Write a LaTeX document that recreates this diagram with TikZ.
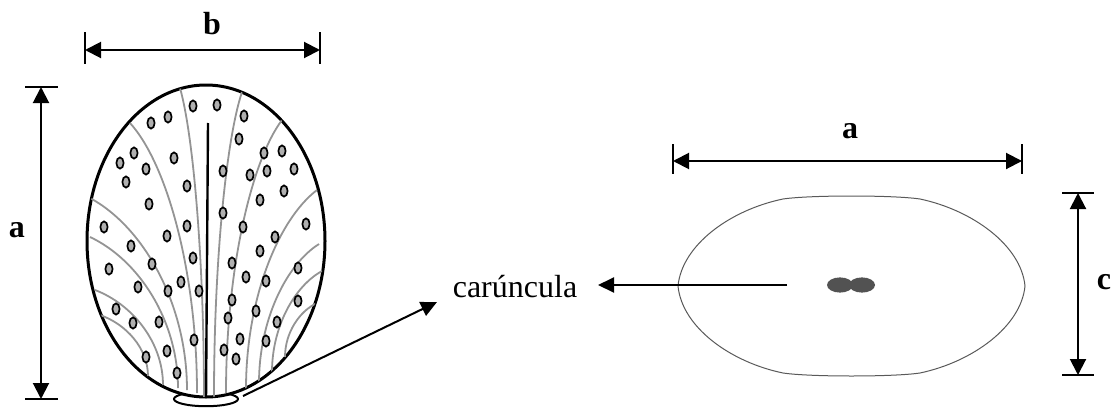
\documentclass[tikz,border=0pt]{standalone}
\usepackage{fontspec}
\setmainfont{Liberation Serif}
\usetikzlibrary{arrows.meta}
\begin{document}
\begin{tikzpicture}[x=0.5pt,y=-0.5pt,
  tip/.style={Triangle[length=8pt,width=8pt]},
  dimline/.style={line width=1pt,{Triangle[length=8pt,width=8pt]}-{Triangle[length=8pt,width=8pt]}},
  tick/.style={line width=1pt},
  pointer/.style={line width=1pt,-{Triangle[length=8pt,width=7.5pt]}},
  dimlabel/.style={font=\fontsize{16}{19}\selectfont\bfseries,inner sep=0pt},
  vein/.style={black!42,line width=0.9pt},
  dot/.style={fill=gray!62,draw=black,line width=0.85pt},
  seedline/.style={black,line width=1.5pt}]
\useasboundingbox (0,0) rectangle (1113,407);

% ---- dimension b (width of the seed, front view)
\coordinate (bL) at (85,50);
\coordinate (bR) at (320,50);
\draw[tick] (85,32) -- (85,64) (320,32) -- (320,64);
\draw[dimline] (bL) -- (bR);
\node[dimlabel] (lb) at (212,24) {b};

% ---- dimension a (length of the seed, front view)
\coordinate (aT) at (41,87);
\coordinate (aB) at (41,399);
\draw[tick] (25,87) -- (58,87) (25,399) -- (58,399);
\draw[dimline] (aT) -- (aB);
\node[dimlabel] (la) at (17,230) {a};

% ---- caruncle under the seed
\draw[seedline,line width=1pt] (206,399) ellipse [x radius=16pt, y radius=3.6pt];

% ---- seed body
\draw[seedline,fill=white] (206,241) ellipse [x radius=59.5pt, y radius=78pt];

\begin{scope}
  \clip (206,241) ellipse [x radius=59.5pt, y radius=78pt];
  % veins fanning out from the base
  \foreach \px/\py/\qx/\qy in {
      100/315/148/376, 95/290/163/385, 90/237/178/388, 90/198/187/390,
      130/123/197/393, 180/88/204/398,
      242/92/214/397, 282/120/226/393, 317/190/246/389, 319/244/259/383,
      322/271/272/372, 317/303/285/357}
    \draw[vein] (\px,\py) .. controls ({\px+0.55*(\qx-\px)},{\py+0.15*(\qy-\py)})
                             and ({\qx},{\qy-0.45*(\qy-\py)}) .. (\qx,\qy);
  % spots on the coat
  \foreach \dx/\dy in {
      151/123, 168/117, 193/106, 217/105, 244/116, 239/139,
      120/163, 134/153, 146/169, 126/182, 174/158, 187/186, 223/171,
      264/153, 282/151, 250/175, 267/171, 294/169, 284/191, 260/200,
      149/204, 223/213, 104/227, 187/226, 243/227, 306/224, 167/236,
      275/237, 131/246, 260/251, 193/258, 152/264, 232/263, 109/269,
      298/268, 138/287, 168/291, 181/282, 199/291, 246/277, 266/281,
      232/300, 298/301, 116/309, 256/311, 133/323, 159/322, 228/318,
      277/322, 194/340, 240/339, 266/341, 146/357, 167/351, 224/350,
      236/359, 177/373}
    \draw[dot] (\dx,\dy) ellipse [x radius=1.8pt, y radius=2.8pt];
  % raphe
  \draw[black,line width=1.2pt] (208,123) -- (206,400);
\end{scope}

% ---- label and pointers
\node[font=\fontsize{16}{19}\selectfont,inner sep=0pt] (car) at (515,287) {carúncula};
\coordinate (carL) at (243,396);
\coordinate (carLtip) at (437,302);
\draw[pointer] (carL) -- (carLtip);

% ---- seed, side view
\draw[black!65,line width=0.5pt]
  (678,286) .. controls (682,245) and (730,210) .. (783,199)
            .. controls (810,195) and (893,195) .. (920,199)
            .. controls (972,210) and (1021,245) .. (1025,286)
            .. controls (1021,327) and (972,362) .. (920,373)
            .. controls (893,377) and (810,377) .. (783,373)
            .. controls (730,362) and (682,327) .. cycle;
\fill[black!68] (840,285) ellipse [x radius=6.5pt, y radius=3.8pt];
\fill[black!68] (862,285) ellipse [x radius=6.5pt, y radius=3.8pt];

\coordinate (carR) at (787,285);
\coordinate (carRtip) at (598,285);
\draw[pointer] (carR) -- (carRtip);

% ---- dimension a (side view)
\coordinate (a2L) at (673,161);
\coordinate (a2R) at (1022,161);
\draw[tick] (673,144) -- (673,174) (1022,144) -- (1022,174);
\draw[dimline] (a2L) -- (a2R);
\node[dimlabel] (la2) at (850,131) {a};

% ---- dimension c (thickness, side view)
\coordinate (cT) at (1078,193);
\coordinate (cB) at (1078,375);
\draw[tick] (1062,193) -- (1094,193) (1062,375) -- (1094,375);
\draw[dimline] (cT) -- (cB);
\node[dimlabel] (lc) at (1104,282) {c};
\end{tikzpicture}
\end{document}
